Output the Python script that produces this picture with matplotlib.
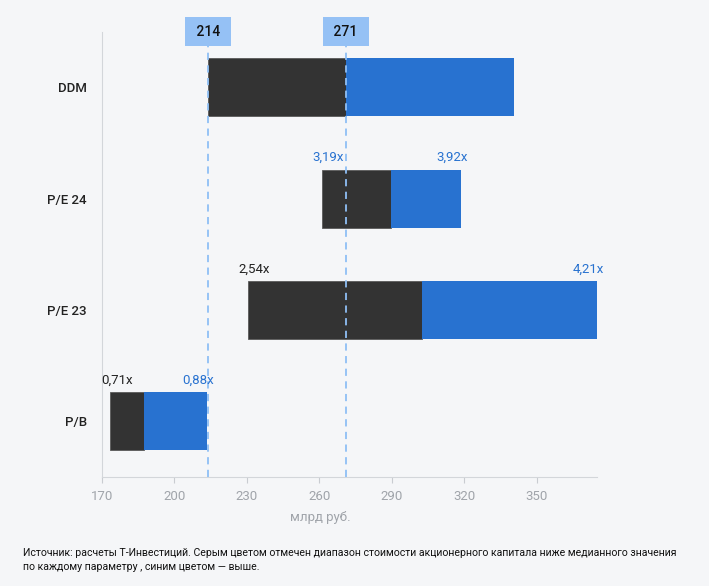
import matplotlib.pyplot as plt
from matplotlib.transforms import blended_transform_factory

methods = ['DDM', 'P/E 24', 'P/E 23', 'P/B']
low = [214, 261, 230.5, 173.5]
median = [271, 289.5, 302.5, 187.5]
high = [340.5, 318.5, 375, 213.5]
low_labels = ['', '3,19x', '2,54x', '0,71x']
high_labels = ['', '3,92x', '4,21x', '0,88x']
low_label_colors = ['#222222', '#2872d0', '#222222', '#222222']
ref_lines = [214, 271]
xticks = [170, 200, 230, 260, 290, 320, 350]

bg = '#f5f6f8'
dark = '#333333'
blue = '#2872d0'
light_blue = '#95c1f5'
grey = '#a0a4aa'

plt.rcParams['font.family'] = ['Roboto', 'DejaVu Sans']

fig = plt.figure(figsize=(7.09, 5.86), dpi=100, facecolor=bg)
ax = fig.add_axes([0.1439, 0.186, 0.698, 0.760])
ax.set_facecolor(bg)

ypos = list(range(len(methods)))
h = 0.52
ax.barh(ypos, [m - l for m, l in zip(median, low)], left=low, height=h,
        color=dark, edgecolor='#5a5a5a', linewidth=0.6, zorder=2)
ax.barh(ypos, [hi - m for hi, m in zip(high, median)], left=median, height=h,
        color=blue, zorder=2)

for i in ypos:
    top = i - h / 2
    if low_labels[i]:
        ax.annotate(low_labels[i], (low[i], top), xytext=(-7, 4), textcoords='offset points',
                    ha='left', va='bottom', fontsize=9.5,
                    color=low_label_colors[i], zorder=4)
    if high_labels[i]:
        ax.annotate(high_labels[i], (high[i], top), xytext=(5, 4), textcoords='offset points',
                    ha='right', va='bottom', fontsize=9.5,
                    color=blue, zorder=4)

tr = blended_transform_factory(ax.transData, ax.transAxes)
for v in ref_lines:
    ax.axvline(v, ymin=0, ymax=0.97, color='#8fbff5', linestyle=(0, (4, 3)),
               linewidth=1.3, zorder=3)
    ax.text(v, 1.0, ' %d ' % v, transform=tr, ha='center', va='center', fontsize=10,
            fontweight='medium', color='#111111', zorder=5, clip_on=False,
            bbox=dict(boxstyle='square,pad=0.55', facecolor=light_blue, edgecolor='none'))

ax.set_xlim(170, 375)
ax.set_ylim(len(methods) - 0.5, -0.5)
ax.set_xticks(xticks)
ax.set_yticks(ypos)
ax.set_yticklabels(methods, fontsize=9.5, fontweight='medium', color='#222222')
ax.tick_params(axis='y', length=0, pad=11)
ax.tick_params(axis='x', colors='#c9ccd1', labelcolor=grey, labelsize=9.5, length=4, pad=5)
for s in ['top', 'right']:
    ax.spines[s].set_visible(False)
for s in ['left', 'bottom']:
    ax.spines[s].set_color('#d3d6da')

fig.text(320 / 709, 1 - 518 / 586, 'млрд руб.', ha='center', va='center', fontsize=9.5, color=grey)
fig.text(23 / 709, 1 - 560 / 586,
         'Источник: расчеты Т-Инвестиций. Серым цветом отмечен диапазон стоимости акционерного капитала ниже медианного значения\n'
         'по каждому параметру , синим цветом — выше.',
         ha='left', va='center', fontsize=7.6, color='#111111', linespacing=1.45)

fig.savefig('out.png', dpi=100, facecolor=bg)
